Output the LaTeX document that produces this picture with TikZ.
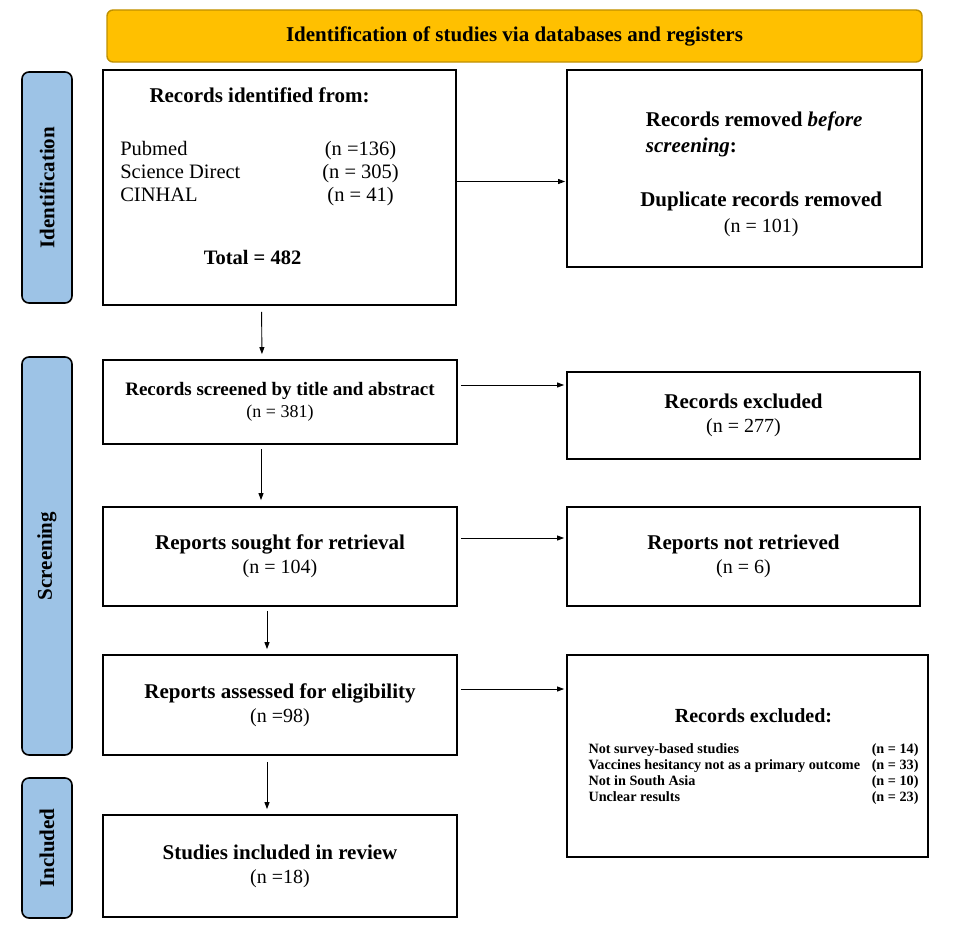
\documentclass[tikz,border=0pt]{standalone}
\usepackage{fontspec}
\setmainfont{Liberation Serif}
\usetikzlibrary{positioning,arrows.meta}

\definecolor{bannerfill}{HTML}{FFC000}
\definecolor{bannerline}{HTML}{BF9000}
\definecolor{phasefill}{HTML}{9DC3E6}
\newcommand{\ncount}{\fontsize{20}{24}\selectfont\mdseries}

\begin{document}
\begin{tikzpicture}[x=1pt,y=-1pt,
  box/.style={draw,line width=1.8pt,align=center,inner sep=0pt,
              font=\fontsize{21}{24}\selectfont\bfseries},
  phase/.style={draw,line width=1.6pt,rounded corners=7pt,fill=phasefill,
                rotate=90,minimum height=50,inner sep=0pt,
                font=\fontsize{21}{24}\selectfont\bfseries},
  arr/.style={-{Triangle[length=7pt,width=5pt]},line width=0.9pt},
]
\useasboundingbox (0,0) rectangle (957,934);

% Title banner
\node[draw=bannerline,line width=1.4pt,fill=bannerfill,rounded corners=6pt,
      minimum width=815,minimum height=52,
      font=\fontsize{21}{24}\selectfont\bfseries] (banner) at (514.5,36)
  {Identification of studies via databases and registers};

% Phase labels
\node[phase,minimum width=231] (phid) at (47,187.5) {Identification};
\node[phase,minimum width=398] (phscr) at (47,556) {Screening};
\node[phase,minimum width=140] (phinc) at (47,848) {Included};

% Identification
\node[box,minimum width=353,minimum height=235] (ident) at (279.5,187.5) {};
\node[below right=17pt and 18pt of ident.north west,inner sep=0pt,
      font=\fontsize{20.5}{23}\selectfont] (idlist)
  {\begin{tabular}{@{}p{190pt}c@{}}
   \multicolumn{2}{c}{\bfseries\fontsize{21}{23}\selectfont Records identified from:}\\[30pt]
   Pubmed & (n =136)\\
   Science Direct & (n = 305)\\
   CINHAL & (n = 41)\\[40pt]
   \multicolumn{2}{c}{\hspace*{-14pt}\bfseries Total = 482}
   \end{tabular}};

\node[box,minimum width=355,minimum height=197] (removed) at (744.5,168.5) {};
\node[align=center,inner sep=0pt,font=\fontsize{21}{26}\selectfont\bfseries,
      right=60pt of removed.west,yshift=-4pt] (remtext)
  {\begin{tabular}{@{}l@{}}Records removed \textit{before}\\
   \textit{screening}:\end{tabular}\\[30pt]
   \hspace*{14pt}Duplicate records removed\\
   \hspace*{14pt}{\ncount (n = 101)}};

% Screening
\node[box,minimum width=354,minimum height=84,
      font=\fontsize{19}{22}\selectfont\bfseries] (screen) at (280,402)
  {Records screened by title and abstract\\
   {\fontsize{18}{22}\selectfont\mdseries (n = 381)}};
\node[box,minimum width=353,minimum height=87] (excl) at (743.5,415.5)
  {Records excluded\\ {\ncount (n = 277)}};

\node[box,minimum width=354,minimum height=99] (sought) at (280,556.5)
  {Reports sought for retrieval\\ {\ncount (n = 104)}};
\node[box,minimum width=353,minimum height=99] (notret) at (743.5,556.5)
  {Reports not retrieved\\ {\ncount (n = 6)}};

\node[box,minimum width=354,minimum height=100] (assess) at (280,705)
  {Reports assessed for eligibility\\ {\ncount (n =98)}};
\node[box,minimum width=361,minimum height=202] (excl2) at (747.5,756)
  {\hspace*{12pt}{\fontsize{20}{24}\selectfont Records excluded:}\\[18pt]
   \fontsize{14.2}{16}\selectfont
   \hspace*{12pt}\begin{tabular*}{330pt}{@{}l@{\extracolsep{\fill}}r@{}}
   Not survey-based studies & (n = 14)\\
   Vaccines hesitancy not as a primary outcome & (n = 33)\\
   Not in South Asia & (n = 10)\\
   Unclear results & (n = 23)
   \end{tabular*}\\[-4pt]};

% Included
\node[box,minimum width=354,minimum height=102] (incl) at (280,866)
  {Studies included in review\\ {\ncount (n =18)}};

% Arrows
\coordinate (a1) at ([yshift=6pt]ident.east);
\coordinate (a2) at ([yshift=17pt]screen.east);
\coordinate (a3) at ([yshift=18.5pt]sought.east);
\coordinate (a4) at ([yshift=16pt]assess.east);
\draw[arr,shorten >=1pt] (a1) -- (a1 -| removed.west);
\draw[arr,shorten <=3pt,shorten >=2pt] (a2) -- (a2 -| excl.west);
\draw[arr,shorten <=3pt,shorten >=2pt] (a3) -- (a3 -| notret.west);
\draw[arr,shorten <=3pt,shorten >=2pt] (a4) -- (a4 -| excl2.west);

\draw[arr,shorten <=6pt,shorten >=5pt] ([xshift=-18pt]ident.south) -- ([xshift=-18pt]screen.north);
\draw[arr,shorten <=4pt,shorten >=6pt] ([xshift=-19pt]screen.south) -- ([xshift=-19pt]sought.north);
\draw[arr,shorten <=4pt,shorten >=5pt] ([xshift=-13pt]sought.south) -- ([xshift=-13pt]assess.north);
\draw[arr,shorten <=6pt,shorten >=5pt] ([xshift=-13pt]assess.south) -- ([xshift=-13pt]incl.north);

\end{tikzpicture}
\end{document}
